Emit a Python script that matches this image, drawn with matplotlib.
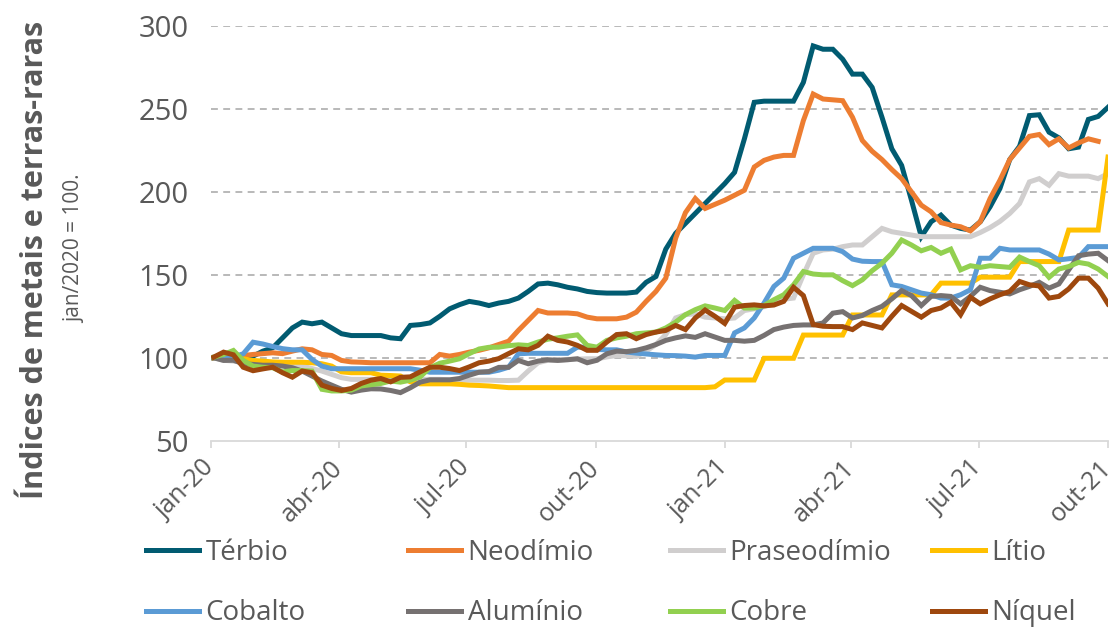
import numpy as np
import pandas as pd
import matplotlib
matplotlib.use("Agg")
import matplotlib.pyplot as plt

plt.rcParams['font.family'] = ['Open Sans', 'DejaVu Sans']

# weekly observations, jan/2020 = 100
dates = pd.date_range('2020-01-03', periods=92, freq='7D')

terbio = [100, 101, 100, 100, 101, 104, 106, 112, 118, 121.5, 120.5, 121.5, 118, 114.5, 113.4, 113.4,
          113.4, 113.4, 112, 111.5, 119.5, 120, 121, 125, 129.5, 132, 134, 133, 131.5, 133, 134, 136,
          140, 144.5, 145, 144, 142.5, 141.5, 140, 139.3, 139, 139, 139, 139.6, 145.5, 149, 165.5, 175,
          181, 187, 193, 199, 205, 211.8, 232, 254, 254.7, 254.7, 254.7, 254.7, 266, 288, 286, 286,
          280, 271, 271, 263, 245, 226, 216, 195, 173, 182, 186, 180, 178, 177, 182, 191,
          202, 219.5, 227.5, 246, 246.5, 236, 232.6, 226, 227, 243.7, 245.5, 251]

neodimio = [100, 101, 101, 101.4, 102, 102.5, 103, 102.5, 104, 105.4, 104.8, 102, 101.4, 98.4, 97.5, 97.3,
            97, 97, 97, 97, 97, 97, 97, 102, 101, 102, 103.4, 104.5, 106, 108, 110, 116.5,
            122.5, 128.5, 127, 127, 127, 126.5, 124.5, 123.5, 123.5, 123.5, 124.5, 127.5, 134, 140, 148, 172,
            187.5, 196, 190, 192.5, 195, 198, 201, 215, 219, 221, 222, 222, 243, 259, 256, 255.5,
            255, 245, 231, 224.5, 219.5, 213.5, 208, 200, 192, 188, 181.5, 180, 179, 176.5, 182, 196,
            207, 219.5, 226.5, 233.5, 234.6, 228.5, 232, 226.5, 229.5, 232, 230.5, np.nan]

praseodimio = [100, 98.5, 98, 97.5, 97.5, 97.5, 97, 97, 96, 95, 93.5, 92, 90, 88, 87, 87,
               87, 87, 87, 87, 87, 87, 87, 87, 86.7, 86.7, 86.5, 86.5, 86.5, 86.3, 86.3, 86.5,
               92, 97, 98.5, 98.6, 99, 99.2, 99.4, 99.4, 100.5, 101.4, 101.2, 100.8, 104, 108, 114, 124,
               126, 126.5, 124.5, 124, 123.5, 124, 128.5, 129.5, 130.8, 133, 135.3, 136, 150, 163, 165, 165.5,
               167, 168, 168, 173, 178, 176, 175, 174, 173, 173, 173, 173, 173, 173, 175.5, 178.5,
               182.2, 187, 193, 206, 208, 204, 211, 209.5, 209.5, 209.5, 208, 211]

litio = [100, 100, 99.5, 99.4, 98.4, 98, 97.5, 97.3, 97.3, 97.3, 97, 96.4, 95, 91.5, 91, 91,
         91, 89.5, 89.3, 89, 85.5, 84.3, 84.3, 84.3, 84.3, 84, 83.5, 83.3, 83, 82.5, 82, 82,
         82, 82, 82, 82, 82, 82, 82, 82, 82, 82, 82, 82, 82, 82, 82, 82,
         82, 82, 82, 82.5, 86.6, 86.6, 86.6, 86.6, 99.7, 99.7, 99.7, 99.7, 113.7, 113.7, 113.7, 113.7,
         113.7, 125.8, 125.8, 125.8, 125.8, 137.9, 137.9, 137.9, 137.9, 137.9, 145, 145, 145, 145, 148.6, 148.6,
         148.6, 148.6, 158, 158, 158, 158, 158, 177, 177, 177, 177, 221]

cobalto = [100, 100, 100.5, 102.4, 109.4, 108.3, 106.8, 105.5, 104.8, 104.8, 99, 95, 93.4, 93.4, 93.4, 93.4,
           93.4, 93.4, 93.4, 93.4, 93.4, 92.5, 91.3, 91.3, 91.3, 91.3, 91.3, 91.3, 91.3, 92.5, 94.3, 102.4,
           102.7, 102.7, 102.7, 102.7, 102.7, 106.4, 106.4, 105, 104.8, 104.8, 103.5, 102.8, 102.3, 101.8, 101.4, 101.3,
           101, 100.4, 101.4, 101.4, 101.4, 115, 118, 124, 133, 143, 148, 160, 163, 166, 166, 166,
           164, 159.5, 158.2, 158, 158, 144, 143, 141, 139, 138, 136, 136, 138, 141, 160, 160,
           166, 165, 165, 165, 165, 162.5, 159, 159.7, 160.5, 167, 167, 167]

aluminio = [100, 98.4, 98.5, 96.4, 96, 95.5, 95.5, 95, 94, 92, 89, 86, 83.5, 81, 79.3, 80.5,
            81.3, 81.2, 80.3, 79, 81.9, 85.3, 86.7, 86.7, 86.7, 87.5, 89.5, 91.3, 91.7, 94.2, 94.3, 98.4,
            96.4, 98, 98.8, 98.4, 98.8, 99.4, 97, 98.5, 102.4, 104, 103.7, 104.5, 106, 108, 110.5, 112,
            113.2, 112.3, 114.5, 112.5, 110.5, 110.5, 110, 110.5, 113.5, 117, 118.5, 119.5, 119.8, 119.8, 121, 126.9,
            127.8, 124, 125.5, 128.5, 131, 135.5, 140.5, 137.5, 131.5, 137, 137.5, 137, 132.5, 137, 142.5, 140.5,
            139.5, 138.5, 141, 143, 145.5, 142, 144.5, 153, 161.5, 162.5, 163, 158.6]

cobre = [100.4, 102, 104.4, 98.4, 95, 94.3, 94, 91.5, 92.3, 92.3, 92, 81, 80, 80, 80.5, 83,
         83.8, 84.5, 86, 85.3, 86.5, 88.5, 94, 96.7, 98, 99.4, 102.5, 105.3, 106.3, 106.4, 107.3, 107.8,
         107.4, 109.5, 111.2, 112, 113, 113.8, 107.5, 106.4, 110.5, 112, 113, 114.5, 115, 115.5, 118, 121.5,
         126, 129, 131.3, 130, 128.5, 134.6, 130, 130, 131.5, 135, 138, 144, 152, 150.5, 150, 150,
         146.5, 143.5, 147, 152.5, 157, 163, 171, 168, 164.5, 166.5, 163, 165.5, 153, 155.5, 154.5, 155.5,
         155, 154.5, 160.7, 158, 155.5, 148.5, 153.5, 155, 157.5, 156.5, 153.5, 149]

niquel = [100.4, 103.4, 101.8, 94.3, 92.2, 93.3, 94.3, 91, 88.3, 92, 91, 83.5, 81.5, 80.3, 81.5, 84.5,
          86.5, 87.5, 85.5, 88.2, 88.5, 91.5, 94.3, 94.3, 93.5, 92.3, 94.5, 97, 98, 99.5, 102.5, 105.4,
          104.8, 107.5, 113, 110.5, 109.5, 107.5, 104.5, 104.5, 109.5, 114, 114.5, 111.5, 114, 115.5, 116.5, 119.5,
          117, 124, 128.8, 125, 120.7, 130.5, 131.5, 131.9, 131.3, 131.8, 134, 142.5, 137.5, 120, 119, 118.8,
          118.8, 117, 121, 119.5, 118, 125, 131.5, 128, 124.5, 128.5, 130, 133.5, 126, 136.5, 132.5, 135.5,
          138, 140, 146, 144, 143.3, 136, 137, 141.5, 148, 148, 142, 132.5]

names = ['Térbio', 'Neodímio', 'Praseodímio', 'Lítio', 'Cobalto', 'Alumínio', 'Cobre', 'Níquel']
series = [terbio, neodimio, praseodimio, litio, cobalto, aluminio, cobre, niquel]
colors = ['#015B71', '#ED7D31', '#D0CECE', '#FFC000', '#5B9BD5', '#767171', '#92D050', '#9E480E']

tick_dates = pd.date_range('2020-01-01', '2021-10-01', freq='3MS')
tick_labels = ['jan-20', 'abr-20', 'jul-20', 'out-20', 'jan-21', 'abr-21', 'jul-21', 'out-21']

txt = '#595959'

fig = plt.figure(figsize=(11.12, 6.27), dpi=100)
ax = fig.add_axes([0.1897, 0.2971, 0.8067, 0.6614])

lines = []
for name, vals, col in zip(names, series, colors):
    ln, = ax.plot(dates, vals, color=col, lw=3.6, label=name, solid_joinstyle='miter')
    lines.append(ln)

ax.set_xlim(tick_dates[0], tick_dates[-1])
ax.set_ylim(50, 300)
ax.set_yticks(range(50, 301, 50))
ax.set_xticks(tick_dates)
ax.set_xticklabels(tick_labels, rotation=45, ha='right', va='center', rotation_mode='anchor')

ax.yaxis.grid(True, color='#A6A6A6', lw=1.1, linestyle=(0, (4.5, 3.5)))
ax.get_ygridlines()[0].set_visible(False)
ax.set_axisbelow(True)

for s in ['left', 'right', 'top']:
    ax.spines[s].set_visible(False)
ax.spines['bottom'].set_color('#D9D9D9')
ax.spines['bottom'].set_linewidth(1.3)

ax.tick_params(axis='y', length=0, pad=16, labelsize=21, labelcolor=txt)
ax.tick_params(axis='x', length=5, width=1.3, color='#D9D9D9', pad=12, labelsize=18, labelcolor=txt)

fig.text(35 / 1112, 1 - 260 / 627, 'Índices de metais e terras-raras', rotation=90,
         ha='center', va='center', fontsize=22, fontweight='bold', color=txt)
fig.text(75 / 1112, 1 - 249 / 627, 'jan/2020 = 100.', rotation=90,
         ha='center', va='center', fontsize=15, color=txt)

# legend: 4 columns of 2 rows, evenly spaced like the original
for k in range(4):
    fig.legend(handles=[lines[k], lines[k + 4]], loc='upper left',
               bbox_to_anchor=((146 + k * 262) / 1112, 1 - 539 / 627),
               frameon=False, fontsize=20, labelcolor=txt, handlelength=1.9,
               handletextpad=0.25, borderpad=0, borderaxespad=0, labelspacing=1.16)

fig.savefig('out.png', dpi=100)
